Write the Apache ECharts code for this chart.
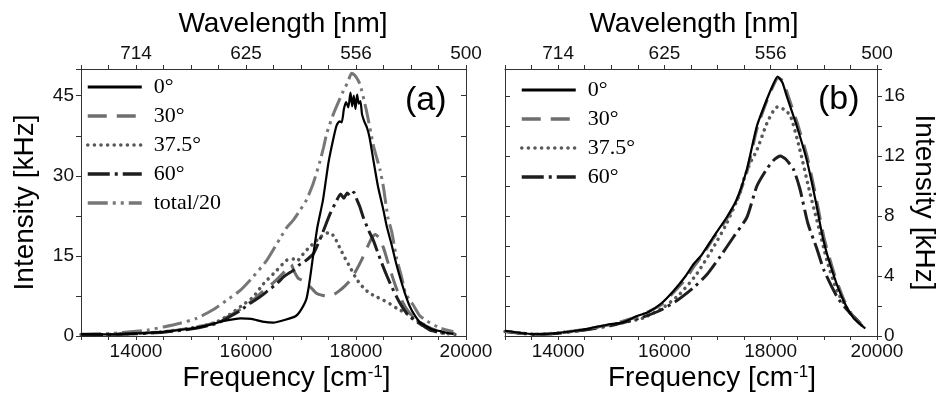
<!DOCTYPE html>
<html><head><meta charset="utf-8">
<script src="https://cdn.jsdelivr.net/npm/echarts@6/dist/echarts.min.js"></script>
<style>html,body{margin:0;padding:0;background:#fff}#c{width:946px;height:401px}</style>
</head><body><div id="c"></div>
<script>
// ---- tick labels ----
const freqTicks = [14000, 16000, 18000, 20000];
const wavelengthLabels = ['714', '625', '556', '500'];
const intensityTicksA = [0, 15, 30, 45];
const intensityTicksB = [0, 4, 8, 12, 16];
const namesA = ['0°', '30°', '37.5°', '60°', 'total/20'];
const namesB = ['0°', '30°', '37.5°', '60°'];

// ---- panel (a) data: [frequency cm-1, intensity kHz] ----
const a0 = [[13000,0.4],[13500,0.3],[14000,0.5],[14500,0.8],[15000,1.4],[15300,2.0],[15600,2.8],[15900,3.3],[16100,3.2],[16300,2.7],[16500,2.5],[16700,3.0],[16900,3.7],[17000,4.9],[17100,7.0],[17160,10.5],[17220,15.0],[17300,20.5],[17400,25.5],[17500,32.5],[17600,37.5],[17650,39.5],[17700,40.2],[17740,40.0],[17780,42.5],[17820,43.8],[17860,42.8],[17900,45.6],[17930,43.0],[17960,45.0],[17990,42.5],[18020,45.2],[18050,43.5],[18080,44.0],[18110,41.5],[18150,40.2],[18200,39.0],[18250,37.0],[18315,33.0],[18400,28.0],[18500,23.5],[18560,20.5],[18650,17.0],[18720,14.0],[18800,11.0],[18890,8.0],[18980,5.5],[19060,4.0],[19160,2.6],[19285,1.8],[19400,1.2],[19530,0.9],[19650,0.6],[19770,0.4]];
const a30 = [[13000,0.3],[13500,0.3],[14000,0.5],[14500,0.8],[15000,1.5],[15300,2.1],[15500,2.7],[15700,3.8],[15900,5.0],[16100,6.5],[16300,8.3],[16500,10.0],[16650,11.5],[16760,12.8],[16820,13.4],[16880,12.0],[16950,10.8],[17050,10.3],[17150,9.4],[17280,8.0],[17400,7.6],[17500,7.5],[17600,7.8],[17700,8.5],[17800,9.4],[17900,10.5],[18000,12.2],[18100,14.2],[18200,16.5],[18280,18.2],[18350,19.0],[18420,18.4],[18500,16.5],[18560,14.5],[18650,11.5],[18740,8.8],[18850,6.3],[18960,4.5],[19080,3.2],[19250,2.0],[19450,1.1],[19650,0.6],[19800,0.4]];
const a375 = [[13000,0.3],[13500,0.3],[14000,0.5],[14500,0.8],[15000,1.5],[15300,2.1],[15500,2.8],[15700,4.0],[15900,5.5],[16130,7.3],[16320,9.8],[16560,12.3],[16740,14.2],[16860,14.4],[16920,14.0],[17050,15.5],[17160,16.7],[17350,18.5],[17450,19.2],[17530,19.4],[17620,18.3],[17710,16.4],[17800,14.6],[17890,12.9],[17980,11.2],[18070,9.8],[18160,8.8],[18250,8.0],[18380,7.3],[18500,6.7],[18620,6.0],[18740,5.2],[18920,4.2],[19100,3.0],[19350,1.4],[19470,0.8],[19600,0.5],[19800,0.3]];
const a60 = [[13000,0.2],[13500,0.3],[14000,0.4],[14500,0.7],[15000,1.3],[15300,1.9],[15500,2.5],[15700,3.6],[15900,4.8],[16070,6.1],[16250,7.3],[16400,8.5],[16560,9.8],[16700,11.2],[16860,12.3],[16950,13.2],[17050,13.8],[17225,15.4],[17320,17.5],[17400,19.5],[17530,22.9],[17650,25.4],[17720,26.6],[17780,25.8],[17840,26.8],[17900,26.2],[17960,26.9],[18010,25.7],[18070,24.2],[18130,22.3],[18220,20.0],[18315,17.9],[18390,15.8],[18470,13.6],[18560,11.3],[18650,9.2],[18770,6.7],[18870,5.0],[18960,3.8],[19100,2.7],[19220,1.9],[19345,1.1],[19500,0.7],[19700,0.4]];
const aTotal = [[13000,0.3],[13300,0.4],[13600,0.5],[13900,0.8],[14200,1.1],[14500,1.7],[14800,2.4],[15100,3.3],[15400,4.9],[15650,6.7],[15900,8.6],[16130,11.1],[16380,14.2],[16620,18.3],[16740,20.3],[16860,21.7],[16980,23.5],[17100,25.5],[17220,28.5],[17350,32.9],[17410,35.3],[17470,38.0],[17590,41.6],[17770,45.9],[17850,47.5],[17920,49.2],[17980,48.8],[18070,47.2],[18190,42.2],[18320,35.5],[18440,31.0],[18500,27.8],[18580,22.2],[18650,19.5],[18740,14.5],[18830,11.0],[18900,8.0],[19040,5.8],[19160,3.8],[19290,2.8],[19530,1.5],[19770,0.8]];

// ---- panel (b) data ----
const b0 = [[13000,0.35],[13300,0.2],[13600,0.12],[14000,0.2],[14500,0.45],[15000,0.8],[15200,0.9],[15500,1.35],[15700,1.6],[15950,2.2],[16170,3.0],[16400,4.0],[16550,4.8],[16700,5.4],[16920,6.6],[17170,7.9],[17360,9.1],[17550,11.1],[17740,14.0],[17930,15.8],[18050,16.8],[18130,17.3],[18220,16.9],[18300,16.0],[18490,14.0],[18680,11.7],[18840,9.1],[18990,6.4],[19180,4.1],[19370,2.35],[19560,1.2],[19780,0.5]];
const b30 = [[13000,0.3],[13300,0.2],[13600,0.12],[14000,0.2],[14500,0.45],[15000,0.78],[15500,1.3],[15950,2.1],[16170,2.9],[16400,3.8],[16550,4.6],[16700,5.3],[16920,6.5],[17170,7.8],[17360,9.0],[17550,10.9],[17740,13.8],[17930,15.7],[18050,16.7],[18140,17.2],[18230,17.0],[18310,16.2],[18500,14.2],[18690,11.9],[18850,9.3],[19000,6.6],[19190,4.2],[19380,2.4],[19570,1.2],[19780,0.5]];
const b375 = [[13000,0.3],[13300,0.18],[13600,0.12],[14000,0.2],[14500,0.42],[15000,0.75],[15300,0.95],[15600,1.2],[15980,1.9],[16290,2.8],[16600,4.1],[16920,5.9],[17170,7.5],[17420,9.5],[17490,10.4],[17610,11.5],[17740,12.4],[17930,14.2],[18050,15.0],[18140,15.3],[18250,15.1],[18370,14.7],[18550,12.4],[18740,9.5],[18870,7.7],[19060,5.0],[19250,3.0],[19500,1.5],[19750,0.65]];
const b60 = [[13000,0.3],[13300,0.18],[13600,0.1],[14000,0.18],[14500,0.4],[15000,0.7],[15540,1.2],[15920,1.7],[16230,2.35],[16540,3.2],[16800,4.1],[17050,5.3],[17300,6.6],[17550,7.9],[17740,10.0],[17920,11.1],[18050,11.7],[18180,12.0],[18280,11.8],[18430,11.1],[18550,9.8],[18700,7.5],[18870,5.8],[19000,4.4],[19250,2.6],[19450,1.7],[19700,0.8]];

// ---- styles ----
const styles = {
  '0°':      { color: '#000000', width: 2.2, legendWidth: 3, type: 'solid' },
  '30°':     { color: '#6e6e6e', width: 3, legendWidth: 3.5, type: [19, 10] },
  '37.5°':   { color: '#585858', width: 3.5, legendWidth: 3.5, type: [0.1, 6.5], cap: 'round' },
  '60°':     { color: '#1e1e1e', width: 3, legendWidth: 3.5, type: [22, 5, 3, 5] },
  'total/20':{ color: '#777777', width: 3, legendWidth: 3.5, type: [20, 5, 3, 5, 3, 5] }
};
const SANS = 'Liberation Sans, Arial, sans-serif';
const SERIF = 'Liberation Serif, Times New Roman, serif';
const axisColor = '#333';

function mkSeries(name, data, xi, yi) {
  const s = styles[name];
  return {
    type: 'line', name, data, xAxisIndex: xi, yAxisIndex: yi,
    symbol: 'none', showSymbol: false, smooth: 0.2, silent: true,
    lineStyle: { color: s.color, width: s.width, type: s.type, cap: s.cap || 'butt' },
    itemStyle: { color: s.color },
    emphasis: { disabled: true }
  };
}

function xAxisDef(grid, pos, isWave) {
  const ax = {
    type: 'value', gridIndex: grid, position: pos, min: 13000, max: 20000, interval: 500,
    axisLine: { show: true, onZero: false, lineStyle: { color: axisColor, width: 1 } },
    axisTick: { show: true, inside: false, length: 4, lineStyle: { color: axisColor } },
    splitLine: { show: false },
    axisLabel: {
      show: true, margin: 6, fontFamily: SANS, fontSize: 19, color: '#111',
      showMinLabel: true, showMaxLabel: true,
      formatter: v => { const i = freqTicks.indexOf(v); return i < 0 ? '' : (isWave ? wavelengthLabels[i] : String(v)); }
    },
    nameLocation: 'middle', nameMoveOverlap: false
  };
  if (isWave) {
    ax.name = 'Wavelength [nm]';
    ax.nameGap = 31;
    ax.nameTextStyle = { fontFamily: SANS, fontSize: 28, color: '#000', padding: [0, 0, 0, grid === 0 ? 19 : 6] };
  } else {
    ax.name = 'Frequency [cm{sup|-1}]';
    ax.nameGap = 28;
    ax.nameTextStyle = { fontFamily: SANS, fontSize: 28, color: '#000', padding: [0, 0, 0, grid === 0 ? 26 : 42],
      rich: { sup: { fontFamily: SANS, fontSize: 17, color: '#000', verticalAlign: 'top' } } };
  }
  return ax;
}

function yAxisDef(grid, pos, max, interval, ticks, showLabels, inside, name, nameRotate, nameGap) {
  const ax = {
    type: 'value', gridIndex: grid, position: pos, min: 0, max, interval,
    axisLine: { show: true, onZero: false, lineStyle: { color: axisColor, width: 1 } },
    axisTick: { show: true, inside, length: 5, lineStyle: { color: axisColor } },
    splitLine: { show: false },
    axisLabel: {
      show: showLabels, margin: 7, fontFamily: SANS, fontSize: 19, color: '#111',
      showMinLabel: true, showMaxLabel: true,
      formatter: v => ticks.includes(v) ? String(v) : ''
    },
    nameMoveOverlap: false
  };
  if (name) {
    ax.name = name; ax.nameLocation = 'middle'; ax.nameRotate = nameRotate; ax.nameGap = nameGap;
    ax.nameTextStyle = { fontFamily: SANS, fontSize: 28, color: '#000' };
  }
  return ax;
}

function legendData(names) {
  return names.map(n => {
    const s = styles[n];
    return { name: n, lineStyle: { color: s.color, width: s.legendWidth, type: s.type, cap: s.cap || 'butt' } };
  });
}

const legendCommon = {
  orient: 'vertical', padding: 0, itemGap: 7, itemWidth: 54, itemHeight: 20, selectedMode: false,
  itemStyle: { opacity: 0, color: 'rgba(0,0,0,0)', borderWidth: 0, borderColor: 'rgba(0,0,0,0)' },
  textStyle: { fontFamily: SERIF, fontSize: 22, color: '#000', padding: [0, 0, 0, 7] }
};

const chart = echarts.init(document.getElementById('c'), null, { renderer: 'canvas' });
chart.setOption({
  animation: false,
  backgroundColor: '#fff',
  grid: [
    { left: 81, top: 69, width: 385, height: 267, outerBoundsMode: 'none', containLabel: false },
    { left: 505, top: 69, width: 372, height: 267, outerBoundsMode: 'none', containLabel: false }
  ],
  xAxis: [
    xAxisDef(0, 'bottom', false),
    xAxisDef(0, 'top', true),
    xAxisDef(1, 'bottom', false),
    xAxisDef(1, 'top', true)
  ],
  yAxis: [
    yAxisDef(0, 'left', 50, 7.5, intensityTicksA, true, false, 'Intensity [kHz]', 90, 42),
    yAxisDef(0, 'right', 50, 7.5, intensityTicksA, false, true),
    yAxisDef(1, 'left', 17.8, 2, intensityTicksB, false, true),
    yAxisDef(1, 'right', 17.8, 2, intensityTicksB, true, false, 'Intensity [kHz]', -90, 33)
  ],
  legend: [
    Object.assign({}, legendCommon, { data: legendData(namesA), left: 86, top: 76 }),
    Object.assign({}, legendCommon, { data: legendData(namesB), left: 520, top: 79 })
  ],
  graphic: [
    { type: 'text', left: 405, top: 84, style: { text: '(a)', font: '34px ' + SANS, fill: '#000' } },
    { type: 'text', left: 818, top: 83, style: { text: '(b)', font: '34px ' + SANS, fill: '#000' } }
  ],
  series: [
    mkSeries('total/20', aTotal, 0, 0),
    mkSeries('37.5°', a375, 0, 0),
    mkSeries('30°', a30, 0, 0),
    mkSeries('60°', a60, 0, 0),
    mkSeries('0°', a0, 0, 0),
    mkSeries('37.5°', b375, 2, 3),
    mkSeries('60°', b60, 2, 3),
    mkSeries('30°', b30, 2, 3),
    mkSeries('0°', b0, 2, 3)
  ]
});
</script>
</body></html>
